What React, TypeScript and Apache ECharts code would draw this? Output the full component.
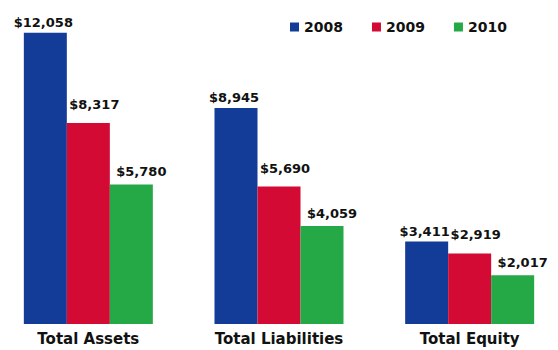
import React, { useEffect, useRef } from "react";
import * as echarts from "echarts";

const categories = ["Total Assets", "Total Liabilities", "Total Equity"];
const seriesNames = ["2008", "2009", "2010"];
const values2008 = [12058, 8945, 3411];
const values2009 = [8317, 5690, 2919];
const values2010 = [5780, 4059, 2017];

const colors = ["#133b98", "#d30a33", "#25a846"];
const labelOffsets: [number, number][] = [[-2, 0], [6, -8], [10, -2]];

const fmt = (v: number) => "$" + v.toLocaleString("en-US");

export default function App() {
  const ref = useRef<HTMLDivElement>(null);
  useEffect(() => {
    if (!ref.current) return;
    const chart = echarts.init(ref.current, undefined, { renderer: "svg" });
    const all = [values2008, values2009, values2010];
    chart.setOption({
      animation: false,
      textStyle: { fontFamily: "DejaVu Sans" },
      legend: {
        left: 292,
        top: 15,
        itemWidth: 9,
        itemHeight: 9,
        itemGap: 29,
        icon: "rect",
        textStyle: { fontFamily: "DejaVu Sans", fontWeight: "bold", fontSize: 14, color: "#111" },
        data: seriesNames,
      },
      grid: { left: 0, right: 0, top: 10, bottom: 26, containLabel: false },
      xAxis: {
        type: "category",
        data: categories,
        axisLine: { show: false },
        axisTick: { show: false },
        axisLabel: {
          margin: 7,
          fontFamily: "DejaVu Sans",
          fontWeight: "bold",
          fontSize: 15,
          color: "#111",
        },
      },
      yAxis: {
        type: "value",
        min: 0,
        max: 13000,
        show: false,
        splitLine: { show: false },
      },
      series: all.map((d, i) => ({
        name: seriesNames[i],
        type: "bar",
        data: d,
        barWidth: 43,
        barGap: "0%",
        itemStyle: { color: colors[i] },
        label: {
          show: true,
          position: "top",
          distance: 4,
          offset: labelOffsets[i],
          formatter: (p: any) => fmt(p.value),
          fontFamily: "DejaVu Sans",
          fontWeight: "bold",
          fontSize: 13,
          color: "#111",
        },
      })),
    });
    return () => chart.dispose();
  }, []);
  return (
    <div style={{ position: "absolute", left: 0, top: 0, width: 558, height: 350, overflow: "hidden", background: "#fff" }}>
      <div ref={ref} style={{ width: 572, height: 350, position: "absolute", left: -7, top: 0 }} />
    </div>
  );
}
